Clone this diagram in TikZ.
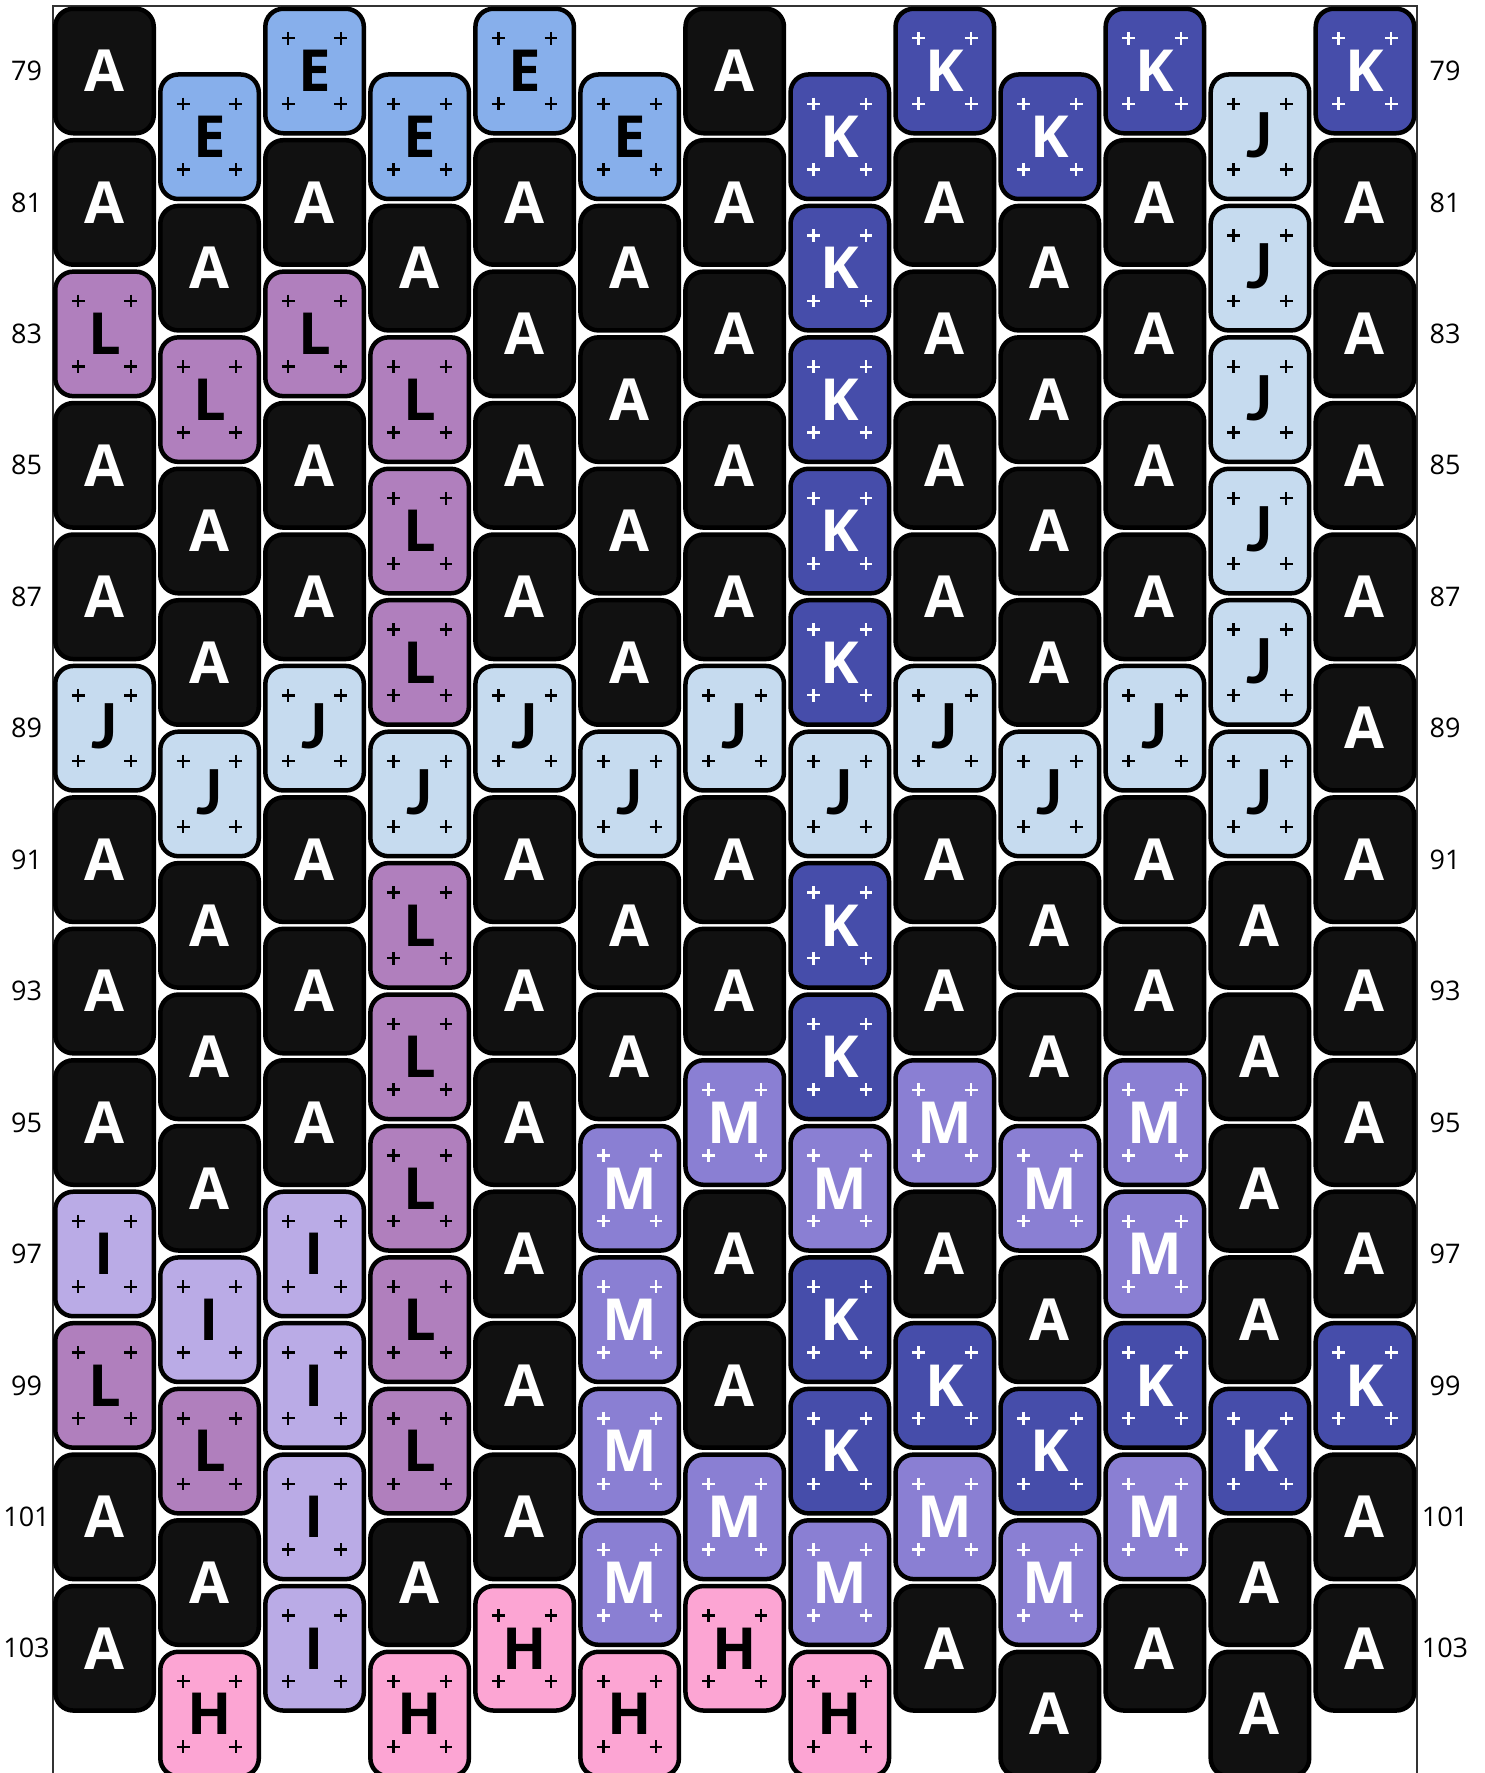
\documentclass[tikz,border=0pt]{standalone}
\usepackage{fontspec}
\setmainfont{Open Sans}
\newfontfamily\jfont{Lato}
\definecolor{cA}{HTML}{111111}\colorlet{tA}{white}\colorlet{pA}{white}
\definecolor{cE}{HTML}{87AFEB}\colorlet{tE}{black}\colorlet{pE}{black}
\definecolor{cL}{HTML}{B07FBD}\colorlet{tL}{black}\colorlet{pL}{black}
\definecolor{cJ}{HTML}{C6DBEF}\colorlet{tJ}{black}\colorlet{pJ}{black}
\definecolor{cK}{HTML}{464DAA}\colorlet{tK}{white}\colorlet{pK}{white}
\definecolor{cM}{HTML}{8A7FD3}\colorlet{tM}{white}\colorlet{pM}{white}
\definecolor{cI}{HTML}{BAABE6}\colorlet{tI}{black}\colorlet{pI}{black}
\definecolor{cH}{HTML}{FCA5D3}\colorlet{tH}{black}\colorlet{pH}{black}
\def\lettA{A}
\def\lettJ{J}
\newcommand\beadtext[1]{\edef\tmpb{#1}\ifx\tmpb\lettJ{\jfont\fontsize{62}{62}\selectfont\bfseries J}\else#1\fi}
\newcommand\beadcol[3]{%
  \foreach \L [count=\i from 0] in {#3} {
    \pgfmathsetmacro\bx{104.5+#1*105.04}
    \pgfmathsetmacro\by{71+(#2-79+2*\i)*65.72}
    \node[bead, fill=c\L, text=t\L] (b#1-\i) at (\bx,\by) {\beadtext{\L}};
    \edef\tmp{\L}
    \ifx\tmp\lettA\else
      \foreach \dx in {-26.3,26.3} \foreach \dy in {-32.8,32.8}
        \draw[plusmark, draw=p\L] ([shift={(\dx,\dy)}]b#1-\i.center) +(-6.4,0) -- +(6.4,0) +(0,-6.4) -- +(0,6.4);
    \fi
  }%
}
\tikzset{
  bead/.style={draw=black, line width=4.5pt, rounded corners=18pt,
    minimum width=98.5pt, minimum height=124.5pt, inner sep=0pt,
    font=\fontsize{58}{58}\selectfont\bfseries, text height=41.5pt, text depth=0pt},
  plusmark/.style={line width=2.4pt},
  rowlabel/.style={font=\fontsize{27}{27}\selectfont, text=black, inner sep=0pt},
  frameline/.style={draw=black!80, line width=1.5pt}
}
\begin{document}
\begin{tikzpicture}[x=1pt,y=-1pt]
\useasboundingbox (0,0) rectangle (1484,1773);
\fill[white] (0,0) rectangle (1484,1773);
\draw[frameline] (53,1780) -- (53,6) -- (1417,6) -- (1417,1780);
\beadcol{0}{79}{A,A,L,A,A,J,A,A,A,I,L,A,A}
\beadcol{1}{80}{E,A,L,A,A,J,A,A,A,I,L,A,H}
\beadcol{2}{79}{E,A,L,A,A,J,A,A,A,I,I,I,I}
\beadcol{3}{80}{E,A,L,L,L,J,L,L,L,L,L,A,H}
\beadcol{4}{79}{E,A,A,A,A,J,A,A,A,A,A,A,H}
\beadcol{5}{80}{E,A,A,A,A,J,A,A,M,M,M,M,H}
\beadcol{6}{79}{A,A,A,A,A,J,A,A,M,A,A,M,H}
\beadcol{7}{80}{K,K,K,K,K,J,K,K,M,K,K,M,H}
\beadcol{8}{79}{K,A,A,A,A,J,A,A,M,A,K,M,A}
\beadcol{9}{80}{K,A,A,A,A,J,A,A,M,A,K,M,A}
\beadcol{10}{79}{K,A,A,A,A,J,A,A,M,M,K,M,A}
\beadcol{11}{80}{J,J,J,J,J,J,A,A,A,A,K,A,A}
\beadcol{12}{79}{K,A,A,A,A,A,A,A,A,A,K,A,A}
\foreach \r [count=\k from 0] in {79,81,...,103} {
  \pgfmathsetmacro\ly{71+\k*131.44}
  \node[rowlabel] (ll\r) at (26.5,\ly) {\r};
  \node[rowlabel] (rl\r) at (1445,\ly) {\r};
}
\end{tikzpicture}
\end{document}
